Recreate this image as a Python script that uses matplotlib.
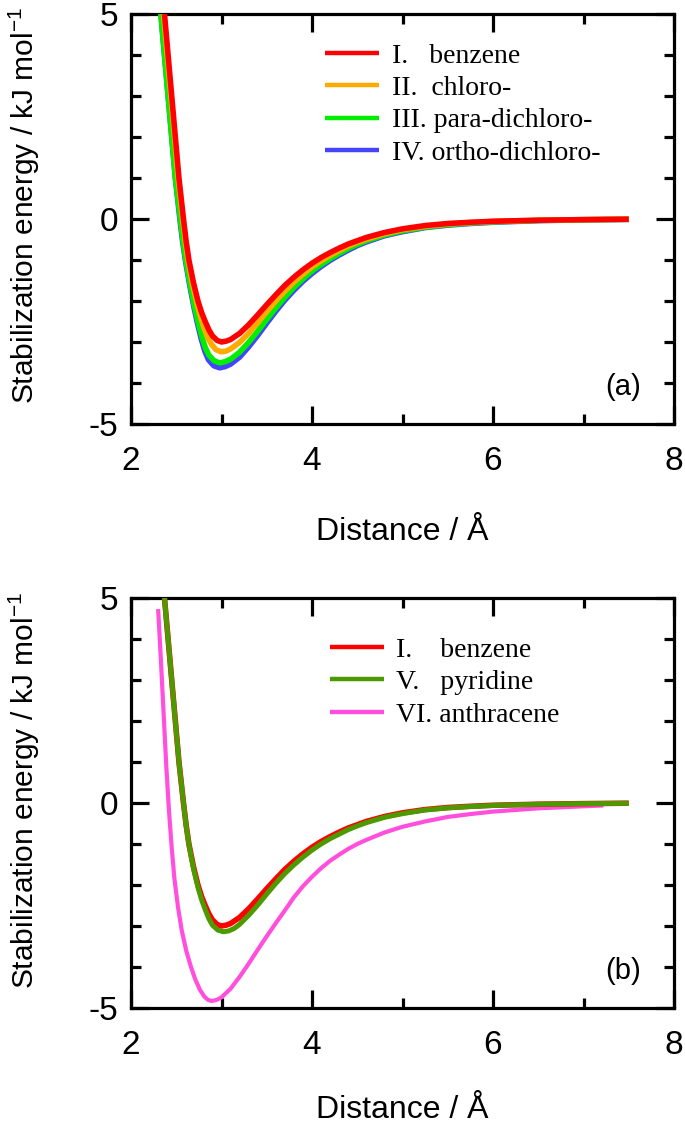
import matplotlib
matplotlib.use("Agg")
import matplotlib.pyplot as plt
from matplotlib.ticker import MultipleLocator

plt.rcParams['font.family'] = ['Liberation Sans', 'DejaVu Sans']
plt.rcParams['mathtext.fontset'] = 'custom'
plt.rcParams['mathtext.rm'] = 'Liberation Sans'
plt.rcParams['mathtext.it'] = 'Liberation Sans'
plt.rcParams['mathtext.bf'] = 'Liberation Sans'
plt.rcParams['axes.unicode_minus'] = False

# ---------------- data ----------------
benz_x = [2.37, 2.41, 2.45, 2.49, 2.53, 2.58, 2.61, 2.64, 2.69, 2.74, 2.78, 2.82, 2.86, 2.90, 2.95, 3.00,
          3.05, 3.10, 3.20, 3.30, 3.40, 3.50, 3.60, 3.70, 3.80, 3.90, 4.00, 4.10, 4.20, 4.30, 4.40,
          4.50, 4.60, 4.80, 5.00, 5.25, 5.50, 5.75, 6.00, 6.50, 7.00, 7.50]
benz_y = [5.0, 4.0, 3.0, 2.0, 1.0, 0.0, -0.55, -1.0, -1.55, -2.0, -2.28, -2.5, -2.7, -2.85, -2.96, -3.0,
          -2.98, -2.94, -2.79, -2.58, -2.34, -2.09, -1.85, -1.62, -1.42, -1.24, -1.08, -0.94, -0.82, -0.71, -0.61,
          -0.53, -0.45, -0.33, -0.24, -0.16, -0.11, -0.08, -0.055, -0.03, -0.015, -0.005]

chlo_x = [2.36, 2.40, 2.44, 2.48, 2.52, 2.57, 2.60, 2.63, 2.68, 2.73, 2.77, 2.81, 2.85, 2.89, 2.94, 3.00,
          3.05, 3.10, 3.20, 3.30, 3.40, 3.50, 3.60, 3.70, 3.80, 3.90, 4.00, 4.10, 4.20, 4.30, 4.40,
          4.50, 4.60, 4.80, 5.00, 5.25, 5.50, 5.75, 6.00, 6.50, 7.00, 7.50]
chlo_y = [5.0, 4.0, 3.0, 2.0, 1.0, 0.0, -0.55, -1.0, -1.6, -2.07, -2.4, -2.68, -2.9, -3.06, -3.19, -3.24,
          -3.22, -3.17, -3.01, -2.79, -2.53, -2.26, -2.0, -1.76, -1.54, -1.35, -1.17, -1.02, -0.89, -0.77, -0.66,
          -0.57, -0.49, -0.36, -0.26, -0.18, -0.12, -0.085, -0.06, -0.03, -0.015, -0.005]

para_x = [2.33, 2.37, 2.41, 2.45, 2.49, 2.545, 2.575, 2.605, 2.655, 2.70, 2.74, 2.78, 2.82, 2.86, 2.92, 2.98,
          3.04, 3.10, 3.20, 3.30, 3.40, 3.50, 3.60, 3.70, 3.80, 3.90, 4.00, 4.10, 4.20, 4.30, 4.40,
          4.50, 4.60, 4.80, 5.00, 5.25, 5.50, 5.75, 6.00, 6.50, 7.00, 7.50]
para_y = [5.0, 4.0, 3.0, 2.0, 1.0, 0.0, -0.55, -1.0, -1.62, -2.12, -2.5, -2.85, -3.13, -3.32, -3.46, -3.51,
          -3.48, -3.42, -3.25, -3.01, -2.74, -2.45, -2.17, -1.91, -1.67, -1.46, -1.27, -1.11, -0.97, -0.84, -0.72,
          -0.62, -0.53, -0.39, -0.29, -0.20, -0.14, -0.10, -0.07, -0.035, -0.018, -0.008]

orth_x = [2.33, 2.37, 2.41, 2.45, 2.49, 2.54, 2.57, 2.60, 2.65, 2.695, 2.735, 2.775, 2.815, 2.855, 2.915, 2.98,
          3.04, 3.10, 3.20, 3.30, 3.40, 3.50, 3.60, 3.70, 3.80, 3.90, 4.00, 4.10, 4.20, 4.30, 4.40,
          4.50, 4.60, 4.80, 5.00, 5.25, 5.50, 5.75, 6.00, 6.50, 7.00, 7.50]
orth_y = [5.0, 4.0, 3.0, 2.0, 1.0, 0.0, -0.55, -1.0, -1.63, -2.15, -2.55, -2.92, -3.22, -3.43, -3.58, -3.63,
          -3.60, -3.54, -3.37, -3.12, -2.84, -2.54, -2.25, -1.98, -1.74, -1.52, -1.33, -1.16, -1.01, -0.88, -0.76,
          -0.65, -0.56, -0.41, -0.31, -0.21, -0.15, -0.11, -0.08, -0.04, -0.02, -0.01]

pyri_x = [2.37, 2.41, 2.45, 2.49, 2.53, 2.58, 2.61, 2.64, 2.69, 2.74, 2.78, 2.82, 2.86, 2.90, 2.96, 3.02,
          3.08, 3.14, 3.20, 3.30, 3.40, 3.50, 3.60, 3.70, 3.80, 3.90, 4.00, 4.10, 4.20, 4.30, 4.40,
          4.50, 4.60, 4.80, 5.00, 5.25, 5.50, 5.75, 6.00, 6.50, 7.00, 7.50]
pyri_y = [5.0, 4.0, 3.0, 2.0, 1.0, 0.0, -0.56, -1.02, -1.6, -2.06, -2.36, -2.6, -2.82, -2.98, -3.10, -3.14,
          -3.12, -3.06, -2.96, -2.74, -2.49, -2.22, -1.96, -1.72, -1.51, -1.32, -1.15, -1.00, -0.87, -0.76, -0.65,
          -0.56, -0.48, -0.35, -0.26, -0.17, -0.12, -0.085, -0.06, -0.03, -0.015, -0.008]

anth_x = [2.30, 2.33, 2.36, 2.39, 2.42, 2.45, 2.48, 2.52, 2.56, 2.61, 2.66, 2.71, 2.76, 2.81, 2.85, 2.89,
          2.95, 3.00, 3.10, 3.20, 3.30, 3.40, 3.50, 3.60, 3.70, 3.80, 3.90, 4.00, 4.10, 4.20, 4.30,
          4.40, 4.50, 4.60, 4.80, 5.00, 5.25, 5.50, 5.75, 6.00, 6.50, 7.00, 7.22]
anth_y = [4.73, 3.5, 2.2, 0.9, -0.2, -1.1, -1.85, -2.55, -3.1, -3.6, -3.98, -4.3, -4.55, -4.72, -4.80, -4.83,
          -4.80, -4.74, -4.53, -4.24, -3.92, -3.58, -3.25, -2.93, -2.62, -2.30, -2.03, -1.80, -1.59, -1.41, -1.26,
          -1.12, -1.00, -0.90, -0.72, -0.58, -0.45, -0.34, -0.27, -0.21, -0.13, -0.08, -0.06]

labels_a = ["I.   benzene", "II.  chloro-", "III. para-dichloro-", "IV. ortho-dichloro-"]
colors_a = ["#ff0000", "#ffaa00", "#00ee00", "#4444ff"]
labels_b = ["I.    benzene", "V.   pyridine", "VI. anthracene"]
colors_b = ["#ff0000", "#4c9a00", "#ff4fdc"]

xlabel = "Distance / Å"
ylabel = "Stabilization energy / kJ mol$^{-1}$"

# ---------------- figure ----------------
W, H = 685, 1127
fig = plt.figure(figsize=(W / 100, H / 100), dpi=100)

def px_axes(left, top, right, bottom):
    return fig.add_axes([left / W, 1 - bottom / H, (right - left) / W, (bottom - top) / H])

ax_a = px_axes(131, 14, 674, 424)
ax_b = px_axes(131, 598, 674, 1008)

def style(ax, tag, ylab_y, xlab_pad):
    ax.set_xlim(2, 8)
    ax.set_ylim(-5, 5)
    ax.xaxis.set_major_locator(MultipleLocator(2))
    ax.xaxis.set_minor_locator(MultipleLocator(1))
    ax.yaxis.set_major_locator(MultipleLocator(5))
    ax.yaxis.set_minor_locator(MultipleLocator(1))
    ax.tick_params(which='both', direction='in', top=True, right=True, width=2.3, color='black')
    ax.tick_params(which='major', length=13, labelsize=24)
    ax.tick_params(which='minor', length=7.5)
    ax.tick_params(axis='x', which='major', pad=16)
    ax.tick_params(axis='y', which='major', pad=9)
    for sp in ax.spines.values():
        sp.set_linewidth(2.3)
    ax.set_xlabel(xlabel, fontsize=23, labelpad=xlab_pad)
    ax.set_ylabel(ylabel, fontsize=21.5, labelpad=6)
    ax.yaxis.set_label_coords(-0.163, ylab_y)
    ax.text(0.906, 0.09, tag, transform=ax.transAxes, fontsize=21,
            ha='center', va='center')

# panel (a)
series_a = [(benz_x, benz_y), (chlo_x, chlo_y), (para_x, para_y), (orth_x, orth_y)]
for i, ((x, y), c, lab) in enumerate(zip(series_a, colors_a, labels_a)):
    ax_a.plot(x, y, color=c, lw=4.0, label=lab, zorder=10 - i, solid_capstyle='butt',
              solid_joinstyle='round')
style(ax_a, "(a)", 0.534, 29)
leg_a = ax_a.legend(loc='upper left', bbox_to_anchor=(0.357, 0.929), frameon=False,
                    prop={'family': 'Liberation Serif', 'size': 20},
                    handlelength=1.95, handletextpad=0.45, labelspacing=0.25,
                    borderpad=0, borderaxespad=0)
for ln in leg_a.get_lines():
    ln.set_linewidth(3.2)

# panel (b)
series_b = [(benz_x, benz_y), (pyri_x, pyri_y), (anth_x, anth_y)]
zorders_b = [5, 6, 4]
widths_b = [4.0, 3.6, 3.0]
for (x, y), c, lab, z, w in zip(series_b, colors_b, labels_b, zorders_b, widths_b):
    ax_b.plot(x, y, color=c, lw=w, label=lab, zorder=z, solid_capstyle='butt',
              solid_joinstyle='round')
style(ax_b, "(b)", 0.530, 24)
leg_b = ax_b.legend(loc='upper left', bbox_to_anchor=(0.366, 0.904), frameon=False,
                    prop={'family': 'Liberation Serif', 'size': 20},
                    handlelength=1.95, handletextpad=0.45, labelspacing=0.25,
                    borderpad=0, borderaxespad=0)
for ln in leg_b.get_lines():
    ln.set_linewidth(3.2)

fig.savefig("out.png", dpi=100)
